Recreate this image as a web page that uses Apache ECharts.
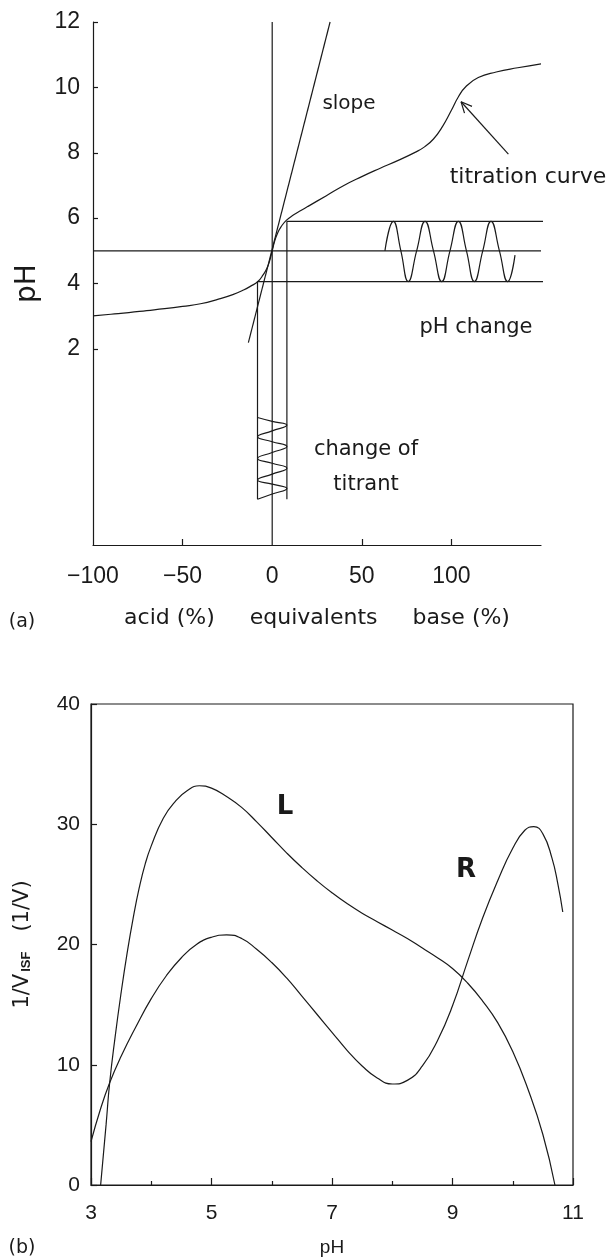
<!DOCTYPE html>
<html>
<head>
<meta charset="utf-8">
<title>titration</title>
<script src="https://cdn.jsdelivr.net/npm/echarts@6/dist/echarts.min.js"></script>
<style>
  html, body { margin: 0; padding: 0; background: #ffffff; }
  #main { width: 613px; height: 1259px; }
</style>
</head>
<body>
<div id="main"></div>
<script>
// (a) titration curve, equivalents (%) vs pH
const titrationX = [-100, -90, -80, -70, -60, -50, -40, -30, -22, -16, -12, -8, -5, -3, -1.5, 0, 1.5, 3, 5, 8, 12, 16, 20, 30, 40, 50, 60, 70, 80, 85, 90, 95, 100, 104, 108, 115, 125, 137, 150];
const titrationPH = [3.01, 3.06, 3.11, 3.17, 3.23, 3.30, 3.38, 3.52, 3.66, 3.80, 3.92, 4.06, 4.27, 4.46, 4.68, 5.0, 5.32, 5.54, 5.74, 5.94, 6.1, 6.23, 6.36, 6.68, 7.0, 7.27, 7.52, 7.76, 8.02, 8.18, 8.42, 8.8, 9.3, 9.72, 10.02, 10.3, 10.47, 10.6, 10.72];

// tangent at the equivalence point
const slopeX = [-13.3, 32.3];
const slopePH = [2.19, 12];

// pH change wave (drawn along x)
const phWaveX = [62.9, 67.6, 71.8, 75.9, 80.6, 85.3, 90, 94.6, 99.2, 103.9, 108.4, 112.8, 117.5, 122.1, 126.8, 131.4, 135.5];
const phWavePH = [5, 5.9, 5, 4.06, 5, 5.9, 5, 4.06, 5, 5.9, 5, 4.06, 5, 5.9, 5, 4.06, 4.87];

// change of titrant wave (drawn along pH)
const titrantX = [-8.2, 0, 8.2, 0, -8.2, 0, 8.2, 0, -8.2, 0, 8.2, 0, -8.2, 0, 8.2, 0, -8.2];
const titrantPH = [-0.1, -0.22, -0.33, -0.51, -0.69, -0.84, -0.99, -1.17, -1.35, -1.5, -1.65, -1.83, -2.01, -2.14, -2.27, -2.44, -2.6];

// guide lines
const eqPH = 5;
const upperPH = 5.9;
const lowerPH = 4.06;
const stepX = 8.2;
const guideEndX = 175;
const guideBottomPH = -2.6;

// arrow pointing at the curve
const arrowX = [131.8, 105.4];
const arrowPH = [7.96, 9.56];
const arrowHeadX = [107.3, 105.4, 111.5];
const arrowHeadPH = [9.21, 9.56, 9.42];

// (b) 1/V_ISF vs pH
const curveLpH = [3.16, 3.25, 3.31, 3.4, 3.5, 3.6, 3.7, 3.8, 3.9, 4.0, 4.2, 4.4, 4.6, 4.8, 5.0, 5.25, 5.5, 5.75, 6.0, 6.25, 6.5, 6.75, 7.0, 7.25, 7.5, 7.75, 8.0, 8.25, 8.5, 8.75, 9.0, 9.25, 9.5, 9.75, 10.0, 10.25, 10.5, 10.7];
const curveLVal = [0, 5.0, 8.5, 12.3, 16.0, 19.3, 22.2, 24.7, 26.7, 28.2, 30.5, 31.9, 32.8, 33.2, 33.0, 32.3, 31.4, 30.2, 28.9, 27.6, 26.4, 25.3, 24.3, 23.4, 22.6, 21.9, 21.2, 20.5, 19.7, 18.9, 18.0, 16.8, 15.3, 13.5, 11.1, 8.0, 4.2, 0];
const curveRpH = [3.0, 3.15, 3.31, 3.5, 3.75, 4.0, 4.25, 4.5, 4.75, 5.0, 5.25, 5.5, 5.75, 6.0, 6.25, 6.5, 6.75, 7.0, 7.25, 7.5, 7.75, 8.0, 8.25, 8.5, 8.75, 9.0, 9.25, 9.5, 9.75, 10.0, 10.2, 10.35, 10.5, 10.65, 10.75, 10.83];
const curveRVal = [3.6, 6.2, 8.5, 10.7, 13.2, 15.5, 17.4, 18.9, 20.0, 20.6, 20.8, 20.5, 19.6, 18.5, 17.2, 15.7, 14.2, 12.7, 11.2, 9.9, 8.9, 8.4, 8.7, 9.9, 12.0, 14.9, 18.6, 22.2, 25.3, 28.0, 29.5, 29.8, 29.2, 27.2, 25.0, 22.7];

function zip(xs, ys) {
  return xs.map((x, i) => [x, ys[i]]);
}

const ink = '#1a1a1a';
const numFont = 'Liberation Sans';
const textFont = 'DejaVu Sans';

function line(data, opts) {
  return Object.assign({
    type: 'line',
    data: data,
    symbol: 'none',
    clip: false,
    lineStyle: {color: ink, width: 1.2},
    xAxisIndex: 0,
    yAxisIndex: 0,
    silent: true
  }, opts || {});
}

function label(text, x, y, size, weight) {
  return {
    type: 'text',
    x: x,
    y: y,
    silent: true,
    style: {
      text: text,
      font: (weight || 'normal') + ' ' + size + 'px "' + textFont + '"',
      fill: ink,
      align: 'center',
      verticalAlign: 'middle'
    }
  };
}

const chart = echarts.init(document.getElementById('main'));

const option = {
  backgroundColor: '#ffffff',
  animation: false,
  grid: [
    {left: 93, top: 22, width: 448, height: 523},
    {left: 91, top: 704, width: 482, height: 481, show: true, borderColor: ink, borderWidth: 1.2}
  ],
  xAxis: [
    {
      gridIndex: 0,
      type: 'value',
      min: -100,
      max: 150,
      interval: 50,
      name: 'acid (%)     equivalents     base (%)',
      nameLocation: 'middle',
      nameGap: 62,
      nameTextStyle: {fontFamily: textFont, fontSize: 22, color: ink},
      axisLine: {onZero: false, lineStyle: {color: ink, width: 1.2}},
      axisTick: {inside: true, length: 6, customValues: [-50, 50, 100], lineStyle: {color: ink, width: 1.2}},
      axisLabel: {
        customValues: [-100, -50, 0, 50, 100],
        fontFamily: numFont,
        fontSize: 23,
        color: ink,
        margin: 20,
        formatter: v => (v < 0 ? '\u2212' + (-v) : String(v))
      },
      splitLine: {show: false}
    },
    {
      gridIndex: 1,
      type: 'value',
      min: 3,
      max: 11,
      interval: 2,
      name: 'pH',
      nameLocation: 'middle',
      nameGap: 53,
      nameTextStyle: {fontFamily: numFont, fontSize: 19, color: ink},
      axisLine: {onZero: false, lineStyle: {color: ink, width: 1.2}},
      axisTick: {inside: true, length: 7, lineStyle: {color: ink, width: 1.2}},
      minorTick: {show: true, splitNumber: 2, length: 4, lineStyle: {color: ink, width: 1.2}},
      axisLabel: {fontFamily: numFont, fontSize: 21, color: ink, margin: 18},
      splitLine: {show: false}
    }
  ],
  yAxis: [
    {
      gridIndex: 0,
      type: 'value',
      min: -4,
      max: 12,
      interval: 2,
      name: 'pH',
      nameLocation: 'middle',
      nameGap: 51,
      nameTextStyle: {fontFamily: textFont, fontSize: 28, color: ink},
      axisLine: {onZero: false, lineStyle: {color: ink, width: 1.2}},
      axisTick: {inside: true, length: 5, customValues: [2, 4, 6, 8, 10, 12], lineStyle: {color: ink, width: 1.2}},
      axisLabel: {customValues: [2, 4, 6, 8, 10, 12], fontFamily: numFont, fontSize: 23, color: ink, margin: 13},
      splitLine: {show: false}
    },
    {
      gridIndex: 1,
      type: 'value',
      min: 0,
      max: 40,
      interval: 10,
      name: '{m|1/V}{s|ISF}{m|   (1/V)}',
      nameLocation: 'middle',
      nameGap: 58,
      nameTextStyle: {
        color: ink,
        rich: {
          m: {fontFamily: textFont, fontSize: 21, color: ink},
          s: {fontFamily: numFont, fontSize: 13, fontWeight: 'bold', color: ink, verticalAlign: 'bottom', padding: [6, 0, 0, 2]}
        }
      },
      axisLine: {onZero: false, lineStyle: {color: ink, width: 1.2}},
      axisTick: {inside: true, length: 6, lineStyle: {color: ink, width: 1.2}},
      axisLabel: {fontFamily: numFont, fontSize: 21, color: ink, margin: 11},
      splitLine: {show: false}
    }
  ],
  series: [
    line(zip(titrationX, titrationPH), {name: 'titration curve', smooth: 0.5}),
    line(zip(slopeX, slopePH), {name: 'slope'}),
    line([[0, -4], [0, 12]], {name: 'equivalence'}),
    line([[-100, eqPH], [150, eqPH]], {name: 'pH 5'}),
    line([[stepX, guideBottomPH], [stepX, upperPH], [guideEndX, upperPH]], {name: 'upper'}),
    line([[-stepX, guideBottomPH], [-stepX, lowerPH], [guideEndX, lowerPH]], {name: 'lower'}),
    line(zip(phWaveX, phWavePH), {name: 'pH change', smooth: 0.5}),
    line(zip(titrantX, titrantPH), {name: 'change of titrant', smooth: 0.5}),
    line(zip(arrowX, arrowPH), {name: 'arrow'}),
    line(zip(arrowHeadX, arrowHeadPH), {name: 'arrow head'}),
    line(zip(curveLpH, curveLVal), {name: 'L', smooth: 0.5, xAxisIndex: 1, yAxisIndex: 1, clip: true}),
    line(zip(curveRpH, curveRVal), {name: 'R', smooth: 0.5, xAxisIndex: 1, yAxisIndex: 1, clip: true})
  ],
  graphic: [
    label('slope', 349, 104, 20),
    label('titration curve', 528, 177, 22),
    label('pH change', 476, 328, 21),
    label('change of', 366, 450, 21),
    label('titrant', 366, 485, 21),
    label('(a)', 22, 622, 19),
    label('L', 285, 807, 26, 'bold'),
    label('R', 466, 870, 26, 'bold'),
    label('(b)', 22, 1248, 19)
  ]
};

chart.setOption(option);
</script>
</body>
</html>
